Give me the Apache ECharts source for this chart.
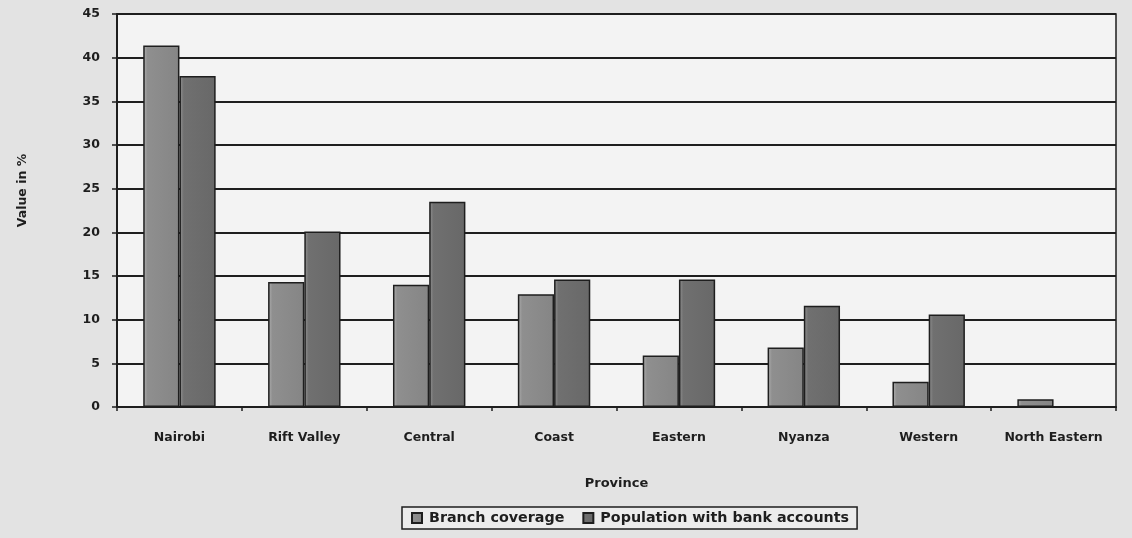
<!DOCTYPE html>
<html>
<head>
<meta charset="utf-8">
<script src="https://cdn.jsdelivr.net/npm/echarts@6/dist/echarts.min.js"></script>
<style>
  html, body { margin: 0; padding: 0; background: #e3e3e3; }
  #chart { width: 1132px; height: 538px; }
</style>
</head>
<body>
<div id="chart"></div>
<script>
// Provinces along the x axis
const provinces = ['Nairobi', 'Rift Valley', 'Central', 'Coast', 'Eastern', 'Nyanza', 'Western', 'North Eastern'];
// Share of bank branches per province (%)
const branchCoverage = [41.4, 14.3, 14.0, 12.9, 5.9, 6.8, 2.9, 0.9];
// Share of population holding a bank account (%)
const populationWithAccounts = [37.9, 20.1, 23.5, 14.6, 14.6, 11.6, 10.6, 0];
// Value axis ticks
const yMin = 0, yMax = 45, yStep = 5;

const FONT = 'DejaVu Sans';
const INK = '#1e1e1e';

function shade(edge, mid, end) {
  return {
    type: 'linear', x: 0, y: 0, x2: 1, y2: 0,
    colorStops: [
      { offset: 0, color: edge },
      { offset: 0.12, color: mid },
      { offset: 1, color: end }
    ]
  };
}

const chart = echarts.init(document.getElementById('chart'), null, { renderer: 'canvas' });

chart.setOption({
  backgroundColor: '#e3e3e3',
  animation: false,
  textStyle: { fontFamily: FONT, color: INK },
  grid: {
    left: 117, right: 16, top: 14, bottom: 131,
    show: true,
    backgroundColor: '#f3f3f3',
    borderColor: INK,
    borderWidth: 1.5
  },
  legend: {
    left: 402, top: 507,
    padding: [4, 8, 4, 9],
    icon: 'rect',
    itemWidth: 10, itemHeight: 10, itemGap: 18,
    borderColor: INK, borderWidth: 1.5,
    backgroundColor: '#ececec',
    textStyle: { fontFamily: FONT, fontWeight: 'bold', fontSize: 14.3, color: INK, padding: [0, 0, 0, 2] },
    data: ['Branch coverage', 'Population with bank accounts']
  },
  xAxis: {
    type: 'category',
    data: provinces,
    name: 'Province',
    nameLocation: 'middle',
    nameGap: 70,
    nameTextStyle: { fontFamily: FONT, fontWeight: 'bold', fontSize: 13, color: INK },
    axisLine: { lineStyle: { color: INK, width: 2 } },
    axisTick: { show: true, length: 4, lineStyle: { color: INK, width: 1.5 } },
    axisLabel: { interval: 0, fontFamily: FONT, fontWeight: 'bold', fontSize: 12.5, color: INK, margin: 24 }
  },
  yAxis: {
    type: 'value',
    min: yMin, max: yMax, interval: yStep,
    name: 'Value in %',
    nameLocation: 'middle',
    nameGap: 88,
    nameRotate: 90,
    nameTextStyle: { fontFamily: FONT, fontWeight: 'bold', fontSize: 12.5, color: INK, padding: [0, 0, 0, 40] },
    axisLine: { show: true, lineStyle: { color: INK, width: 2 } },
    axisTick: { show: true, length: 5, lineStyle: { color: INK, width: 1.5 } },
    axisLabel: { fontFamily: FONT, fontWeight: 'bold', fontSize: 12.5, color: INK, margin: 17 },
    splitLine: { lineStyle: { color: INK, width: 2 } }
  },
  series: [
    {
      name: 'Branch coverage',
      type: 'bar',
      data: branchCoverage,
      barGap: '0%',
      barCategoryGap: '42%',
      itemStyle: {
        color: shade('#b0b0b0', '#8f8f8f', '#858585'),
        borderColor: INK,
        borderWidth: 1.5
      }
    },
    {
      name: 'Population with bank accounts',
      type: 'bar',
      data: populationWithAccounts,
      barGap: '0%',
      barCategoryGap: '42%',
      itemStyle: {
        color: shade('#959595', '#707070', '#686868'),
        borderColor: INK,
        borderWidth: 1.5
      }
    }
  ]
});
</script>
</body>
</html>
